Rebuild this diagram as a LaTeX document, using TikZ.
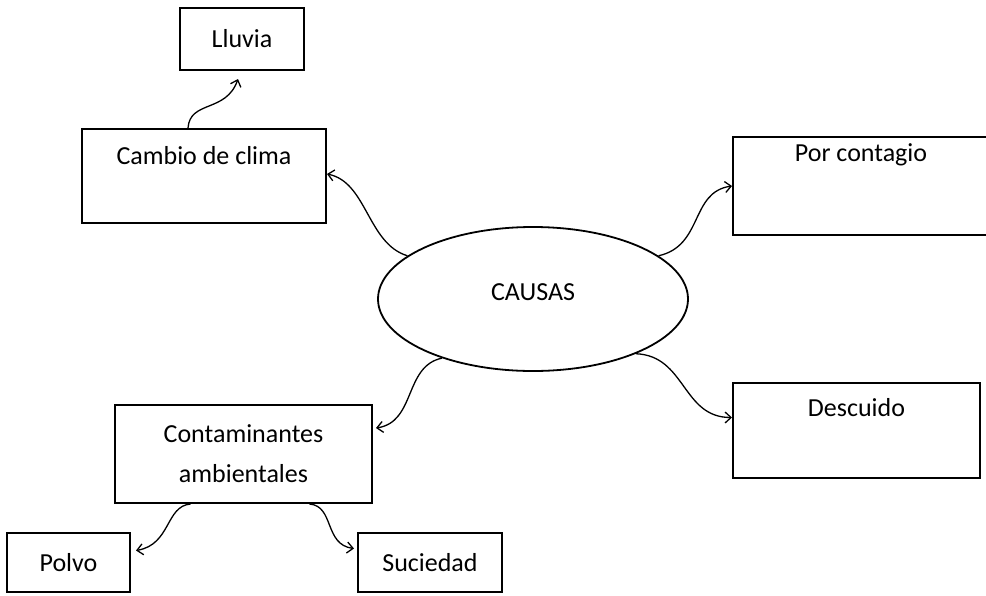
\documentclass[tikz,border=0pt]{standalone}
\usepackage{fontspec}
\setmainfont{Carlito}
\usetikzlibrary{arrows.meta,shapes.geometric}
\begin{document}
\begin{tikzpicture}[x=1pt,y=-1pt,
  txt/.style={font=\fontsize{26}{40}\selectfont,inner sep=0pt},
  box/.style={draw,line width=2pt,inner sep=0pt,txt},
  conn/.style={line width=1.3pt,-{Straight Barb[length=6pt,width=11pt,line width=1.3pt]}},
  lab/.style={txt,anchor=base}]
\useasboundingbox (0,0) rectangle (986,595);
\node[box,minimum width=124pt,minimum height=62pt] (lluvia) at (242,39) {Lluvia};
\node[box,minimum width=244pt,minimum height=94pt,
  label={[lab,yshift=-36pt]north:Cambio de clima}] (cambio) at (204,176) {};
\node[box,minimum width=256pt,minimum height=98pt,
  label={[lab,yshift=-25pt]north:Por contagio}] (contagio) at (861,186) {};
\node[box,minimum width=247pt,minimum height=95pt,
  label={[lab,yshift=-34pt]north:Descuido}] (descuido) at (856.5,430.5) {};
\node[box,minimum width=257pt,minimum height=98pt,align=center] (contam) at (243.5,454) {Contaminantes\\ambientales};
\node[box,minimum width=123pt,minimum height=59pt] (polvo) at (68.5,562.5) {Polvo};
\node[box,minimum width=144pt,minimum height=59pt] (suciedad) at (430,562.5) {Suciedad};
\node[ellipse,draw,line width=1.8pt,inner sep=0pt,minimum width=310pt,minimum height=144pt,
  label={[lab,yshift=7pt]center:CAUSAS}] (causas) at (533,299) {};
\draw[conn] ([xshift=-16pt]cambio.north) .. controls +(2,-28) and +(-12,34) .. ([xshift=-4pt,yshift=-8pt]lluvia.south);
\draw[conn] (causas.161) .. controls +(-40,-12) and +(40,8) .. ([yshift=2pt]cambio.east);
\draw[conn] (causas.19) .. controls +(45,-10) and +(-42,6) .. (contagio.west);
\draw[conn] (causas.213) .. controls +(-38,8) and +(40,-6) .. ([xshift=3pt,yshift=26pt]contam.east);
\draw[conn] (causas.332) .. controls +(50,2) and +(-50,0) .. ([yshift=13pt]descuido.west);
\draw[conn] ([xshift=-53pt]contam.south) .. controls +(-25,2) and +(35,-6) .. ([xshift=5pt,yshift=12pt]polvo.east);
\draw[conn] ([xshift=66pt]contam.south) .. controls +(25,2) and +(-30,-4) .. ([xshift=-3pt,yshift=14pt]suciedad.west);
\end{tikzpicture}
\end{document}
